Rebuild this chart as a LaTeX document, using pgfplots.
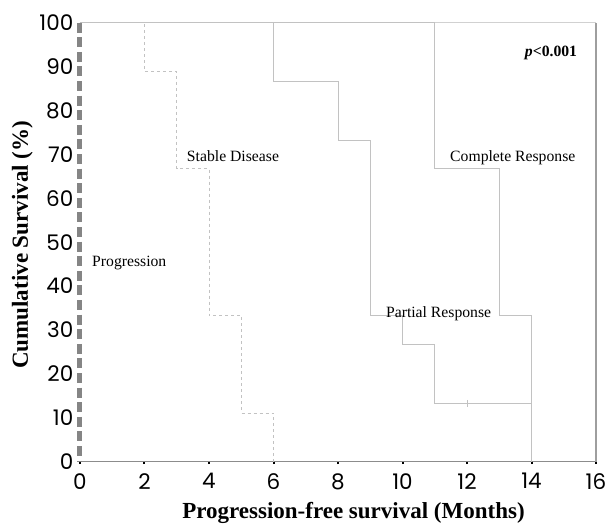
\documentclass[border=0pt]{standalone}
\usepackage{fontspec}
\setmainfont{Liberation Serif}
\newfontfamily\tickfont{Poppins}
\usepackage{pgfplots}
\pgfplotsset{compat=1.18}
\definecolor{curve}{gray}{0.76}
\definecolor{boxtop}{gray}{0.82}
\definecolor{boxright}{gray}{0.62}
\definecolor{baseaxis}{gray}{0.55}
\definecolor{prog}{gray}{0.52}
\begin{document}
\begin{tikzpicture}
\begin{axis}[
  scale only axis, width=516pt, height=439pt,
  xmin=0, xmax=16, ymin=0, ymax=100,
  axis x line*=bottom, axis y line*=left,
  x axis line style={draw=baseaxis, line width=0.9pt, -},
  y axis line style={draw=none},
  xtick={0,2,...,16}, ytick={0,10,...,100},
  xtick style={black, line width=2pt},
  ytick style={draw=none},
  tick align=outside, major tick length=2.5pt,
  tick label style={font=\fontsize{21.5}{21.5}\tickfont},
  /pgf/number format/assume math mode=true,
  xticklabel style={anchor=north, inner sep=0pt, yshift=-9pt},
  yticklabel style={anchor=east, inner sep=0pt, xshift=-4pt},
  xlabel={Progression-free survival (Months)},
  ylabel={Cumulative Survival (\%)},
  label style={font=\fontsize{23}{23}\selectfont\bfseries},
  xlabel style={at={(axis cs:8.48,0)}, anchor=base, yshift=-57.3pt},
  ylabel style={at={(rel axis cs:-0.1008,0.494)}, anchor=base},
  clip=false,
]
\coordinate (O) at (rel axis cs:0,0);
% box top and right
\addplot[boxtop, line width=0.8pt] coordinates {(0,100) (16,100)};
\addplot[boxright, line width=1.3pt] coordinates {(16,0) (16,100)};
% Stable Disease
\addplot[curve, line width=0.8pt, dash pattern=on 3pt off 3pt, const plot] coordinates {
(0,100) (2,88.9) (3,66.7) (4,33.3) (5,11.1) (6,0)};
% Partial Response
\addplot[curve, line width=0.8pt, const plot] coordinates {
(0,100) (6,86.7) (8,73.3) (9,33.3) (10,26.7) (11,13.3) (14,13.3) (14,0)};
% censor mark
\addplot[curve, line width=0.8pt, mark=|, mark size=3.5pt, only marks] coordinates {(12,13.3)};
% Complete Response
\addplot[curve, line width=0.8pt, const plot] coordinates {
(0,100) (11,66.7) (13,33.3) (14,0)};
% Progression
\addplot[prog, line width=5pt, dash pattern=on 10pt off 4.6pt] coordinates {(0,100) (0,0)};
% labels
\node[font=\fontsize{15.7}{15.7}\selectfont, anchor=base] at (axis cs:4.744,68.3) {Stable Disease};
\node[font=\fontsize{15.7}{15.7}\selectfont, anchor=base] at (axis cs:13.42,68.3) {Complete Response};
\node[font=\fontsize{15.7}{15.7}\selectfont, anchor=base] at (axis cs:11.12,32.8) {Partial Response};
\node[font=\fontsize{15.7}{15.7}\selectfont, anchor=base west, inner sep=0pt] at (axis cs:0.372,44.35) {Progression};
\node[font=\fontsize{15.7}{15.7}\selectfont\bfseries, anchor=base east, inner sep=0pt] at (axis cs:15.42,92.4) {\textit{p}<0.001};
\end{axis}
\pgfresetboundingbox
\path (O) ++(-80pt,-70.3pt) rectangle ++(611pt,532pt);
\end{tikzpicture}
\end{document}
